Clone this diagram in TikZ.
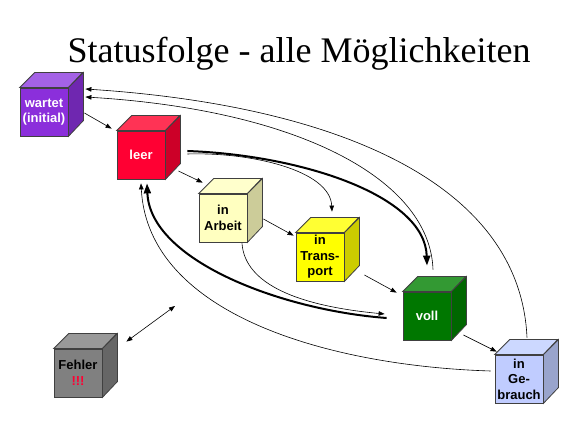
\documentclass[tikz,border=0pt]{standalone}
\usepackage{fontspec}
\setmainfont{Liberation Serif}
\setsansfont{Liberation Sans}
\usetikzlibrary{arrows.meta,calc}
\definecolor{wartetF}{HTML}{8B2FDB}
\definecolor{wartetT}{HTML}{A462E6}
\definecolor{wartetS}{HTML}{6F27B0}
\definecolor{leerF}{HTML}{FF0033}
\definecolor{leerT}{HTML}{FF3355}
\definecolor{leerS}{HTML}{CC0028}
\definecolor{arbeitF}{HTML}{FFFFC0}
\definecolor{arbeitT}{HTML}{FFFFCC}
\definecolor{arbeitS}{HTML}{CCCC99}
\definecolor{transportF}{HTML}{FFFF00}
\definecolor{transportT}{HTML}{FFFF33}
\definecolor{transportS}{HTML}{CCCC00}
\definecolor{vollF}{HTML}{007700}
\definecolor{vollT}{HTML}{339933}
\definecolor{vollS}{HTML}{006600}
\definecolor{gebrauchF}{HTML}{C0CCFF}
\definecolor{gebrauchT}{HTML}{CCD8FF}
\definecolor{gebrauchS}{HTML}{99A4CC}
\definecolor{fehlerF}{HTML}{808080}
\definecolor{fehlerT}{HTML}{999999}
\definecolor{fehlerS}{HTML}{666666}
\definecolor{alarm}{HTML}{FF0033}
\tikzset{
status/.style={draw=black!75, line width=0.8pt, minimum size=48pt,
    inner sep=0pt, align=center,
    font=\sffamily\bfseries\fontsize{13}{15.5}\selectfont},
uebergang/.style={-{Triangle[length=6pt,width=4.5pt]}, line width=0.6pt},
beidseitig/.style={{Triangle[length=6pt,width=4.5pt]}-{Triangle[length=6pt,width=4.5pt]}, line width=0.6pt},
haupt/.style={-{Triangle[length=10pt,width=7pt]}, line width=2pt}
}

\begin{document}
\begin{tikzpicture}[x=1pt, y=-1pt]
	\useasboundingbox (0,0) rectangle (581,435);
	\node[font=\fontsize{36}{40}\selectfont] (titel) at (299,54) {Statusfolge - alle Möglichkeiten};
	% Wuerfel: Vorderseite als Knoten
	\node[status, fill=wartetF, text=white] (wartet) at (44,112) {wartet\\(initial)};
	\node[status, fill=leerF, text=white] (leer) at (141,155) {leer};
	\node[status, fill=arbeitF] (arbeit) at (223,218) {in\\Arbeit};
	\node[status, fill=transportF] (transport) at (320,257) {in\\Trans-\\port};
	\node[status, fill=vollF, text=white] (voll) at (427,316) {voll};
	\node[status, fill=gebrauchF] (gebrauch) at (519,379) {in\\Ge-\\brauch};
	\node[status, fill=fehlerF] (fehler) at (78,373) {Fehler\\{\color{alarm}!!!}};
	% Deckel und Seite
	\foreach \n in {wartet, leer, arbeit, transport, voll, gebrauch, fehler} {
		\filldraw[\n T, draw=black!75, line width=0.8pt] (\n.north west) -- ++(15,-15) -- ++(48,0) -- (\n.north east) -- cycle;
		\filldraw[\n S, draw=black!75, line width=0.8pt] (\n.north east) -- ++(15,-15) -- ++(0,48) -- (\n.south east) -- cycle;
	}
	% direkte Uebergaenge
	\draw[uebergang] ($(wartet.east)+(16,1)$) -- ($(leer.north west)+(-5,-2)$);
	\draw[uebergang] ($(leer.east)+(13,16)$) -- ($(arbeit.north west)+(4,-11)$);
	\draw[uebergang] ($(arbeit.east)+(16,1)$) -- ($(transport.north west)+(-2,3)$);
	\draw[uebergang] ($(transport.east)+(20,18)$) -- ($(voll.north west)+(-6,1)$);
	\draw[uebergang] ($(voll.east)+(12,19)$) -- ($(gebrauch.north west)+(2,-3)$);
	\coordinate (fehlerziel) at (175,306);
	\draw[beidseitig] ($(fehler.north east)+(24,-7)$) -- (fehlerziel);
	% Boegen
	\draw[uebergang] ($(leer.east)+(22,-1)$) .. controls (250,152) and (330,170) .. ($(transport.north)+(12,-21)$);
	\draw[haupt] ($(leer.east)+(22,-4)$) .. controls (300,155) and (425,195) .. ($(voll.north)+(0,-26)$);
	\draw[haupt] ($(voll.west)+(-16,2)$) .. controls (280,310) and (150,260) .. ($(leer.south)+(6,4)$);
	\draw[uebergang] ($(arbeit.south)+(19,1)$) .. controls (245,285) and (300,306) .. ($(voll.west)+(-18,-2)$);
	\draw[uebergang] ($(gebrauch.west)+(-4,-8)$) .. controls (330,366) and (148,315) .. ($(leer.south)+(0,4)$);
	\draw[uebergang] ($(voll.north)+(6,-22)$) .. controls (430,180) and (300,110) .. ($(wartet.east)+(17,-15)$);
	\draw[uebergang] ($(gebrauch.north)+(8,-17)$) .. controls (520,180) and (330,105) .. ($(wartet.east)+(17,-23)$);
\end{tikzpicture}
\end{document}
